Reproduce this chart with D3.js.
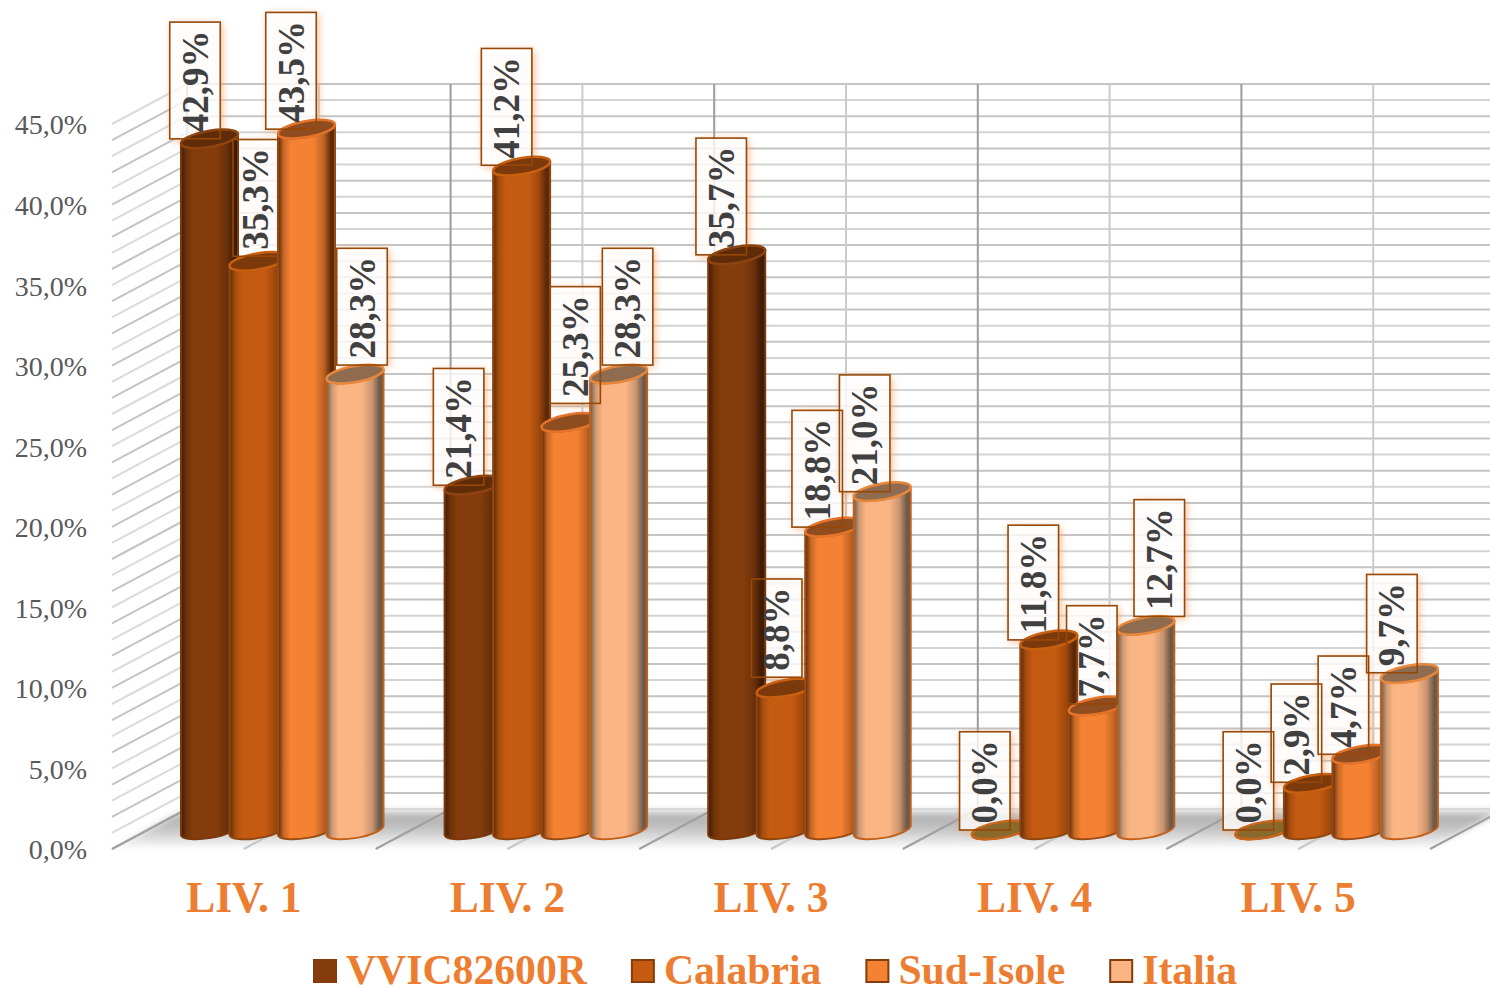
<!DOCTYPE html>
<html>
<head>
<meta charset="utf-8">
<script src="https://cdn.jsdelivr.net/npm/d3@7"></script>
<style>
html,body{margin:0;padding:0;background:#fff;overflow:hidden}
svg{display:block}
text{font-family:"Liberation Serif",serif}
</style>
</head>
<body>
<script>
const categories = ["LIV. 1","LIV. 2","LIV. 3","LIV. 4","LIV. 5"];
const seriesNames = ["VVIC82600R","Calabria","Sud-Isole","Italia"];
const vvic = [42.9,21.4,35.7,0.0,0.0];
const calabria = [35.3,41.2,8.8,11.8,2.9];
const sudIsole = [43.5,25.3,18.8,7.7,4.7];
const italia = [28.3,28.3,21.0,12.7,9.7];
const yTicks = [0,5,10,15,20,25,30,35,40,45];

// label placement nudges (drawing style, per series then category)
const labelDX = [[-14,-14,-15,-15,-15],[-2,-14.5,-8,-15,-15.5],[-15,5.5,-16,-5,-17],[7.5,9.5,-17,14,-17]];
const labelDY = [[-1,-1,-1,-1,-1],[-6,-2,-12,-1,-2],[-1,-20,-1,-3,-1],[-10,-10,-1,-10,-2]];

const W=1490,H=989;
const seriesValues=[vvic,calabria,sudIsole,italia];
const colors=["#843c0c","#c55a11","#f58233","#fbb584"];
const edge=["#3f1c05","#5c2a08","#5c2a08","#6e5a4a"];
const topFill=["#5f2b08","#7c3a0c","#8f4c1e","#8f6b50"];
const rim=["#8f4410","#c9600f","#e5742a","#e8883c"];
const outline=["#7a380c","#8f4610","#984c14","#c2601a"];

const depthX=75,depthY=-40,barDepthY=-19;
const y=d3.scaleLinear().domain([0,45]).range([849,124]);
const x=d3.scaleBand().domain(categories).range([112,1430]);
const inner=d3.scaleBand().domain(d3.range(4)).range([69,263]);
const barW=inner.step()+8.5;
const halfTilt=5, ry=8;
const labelFont=37;

const svg=d3.select("body").append("svg").attr("width",W).attr("height",H);
const defs=svg.append("defs");
const soft=defs.append("filter").attr("id","soft");
soft.append("feGaussianBlur").attr("stdDeviation",0.5);
const floorBlur=defs.append("filter").attr("id","floorBlur").attr("x","-5%").attr("y","-30%").attr("width","110%").attr("height","160%");
floorBlur.append("feGaussianBlur").attr("stdDeviation",3);

// orange glow only outside the label box, so the translucent fill stays white
const glow=defs.append("filter").attr("id","glow").attr("x","-40%").attr("y","-30%").attr("width","180%").attr("height","160%");
glow.append("feGaussianBlur").attr("in","SourceAlpha").attr("stdDeviation",4).attr("result","b");
glow.append("feOffset").attr("in","b").attr("dx",2).attr("dy",2).attr("result","o");
glow.append("feFlood").attr("flood-color","#f4a56e").attr("flood-opacity",1).attr("result","c");
glow.append("feComposite").attr("in","c").attr("in2","o").attr("operator","in").attr("result","s");
glow.append("feComposite").attr("in","s").attr("in2","SourceAlpha").attr("operator","out").attr("result","outer");
const gm=glow.append("feMerge");
gm.append("feMergeNode").attr("in","outer");
gm.append("feMergeNode").attr("in","SourceGraphic");

const fg=defs.append("linearGradient").attr("id","floorG").attr("x1",0).attr("x2",0).attr("y1",0).attr("y2",1);
[[0,"#eeeeee"],[0.2,"#b0b0b0"],[0.5,"#c4c4c4"],[0.85,"#ececec"],[1,"#ffffff"]].forEach(s=>fg.append("stop").attr("offset",s[0]).attr("stop-color",s[1]));

colors.forEach((c,i)=>{
  const g=defs.append("linearGradient").attr("id","bar"+i);
  [[0,edge[i]],[0.1,d3.interpolateRgb(edge[i],c)(0.7)],[0.22,c],[0.62,c],[0.8,d3.interpolateRgb(c,edge[i])(0.35)],[0.93,edge[i]],[1,edge[i]]]
    .forEach(s=>g.append("stop").attr("offset",s[0]).attr("stop-color",s[1]));
});

// walls
const grid=svg.append("g").attr("filter","url(#soft)");
const minor=d3.range(0,46);
grid.selectAll(".h").data(minor).join("line")
  .attr("x1",d=>x.range()[0]+depthX).attr("x2",W)
  .attr("y1",d=>y(d)+depthY).attr("y2",d=>y(d)+depthY)
  .attr("stroke",d=>d%2?"#c4c4c4":"#d4d4d4").attr("stroke-width",2);
grid.selectAll(".d").data(minor).join("line")
  .attr("x1",x.range()[0]).attr("x2",x.range()[0]+depthX)
  .attr("y1",d=>y(d)).attr("y2",d=>y(d)+depthY)
  .attr("stroke",d=>d%2?"#dadada":"#c4c4c4").attr("stroke-width",2);

const halfTicks=d3.range(0,11);
const tickX=k=>x.range()[0]+k*x.step()/2;
grid.selectAll(".v").data(halfTicks).join("line")
  .attr("x1",k=>tickX(k)+depthX).attr("x2",k=>tickX(k)+depthX)
  .attr("y1",y(45)+depthY).attr("y2",y(0)+depthY)
  .attr("stroke",k=>k%2?"#cbcbcb":"#9c9c9c").attr("stroke-width",2);

// floor
svg.append("polygon")
  .attr("points",[[x.range()[0],y(0)],[x.range()[1],y(0)],[x.range()[1]+depthX,y(0)+depthY],[x.range()[0]+depthX,y(0)+depthY]].join(" "))
  .attr("fill","url(#floorG)").attr("filter","url(#floorBlur)");
svg.append("g").attr("filter","url(#soft)").selectAll(".f").data(halfTicks).join("line")
  .attr("x1",k=>tickX(k)).attr("x2",k=>tickX(k)+depthX)
  .attr("y1",y(0)).attr("y2",y(0)+depthY)
  .attr("stroke",k=>k%2?"#c6c6c6":"#a0a0a0").attr("stroke-width",2);

// flat records from the arrays
const recs=[];
seriesValues.forEach((vals,s)=>vals.forEach((v,c)=>recs.push({s,c,v,
  left:x(categories[c])+inner(s),
  top:y(v)+barDepthY,
  base:y(0)+barDepthY,
  text:v.toFixed(1).replace(".",",")+"%"})));
recs.sort((a,b)=>a.c-b.c||a.s-b.s);

// measure label lengths
const probe=svg.append("text").attr("font-size",labelFont).attr("font-weight","bold");
recs.forEach(r=>{probe.text(r.text);r.len=probe.node().getComputedTextLength();
  r.bw=(r.s===1&&r.c===0)?45:50.5;
  r.bh=r.len+15;
  r.cx=r.left+28+labelDX[r.s][r.c];
  r.bottom=r.top+1+labelDY[r.s][r.c];
});
probe.remove();

// label fill goes under the bars
svg.append("g").selectAll("rect").data(recs).join("rect")
  .attr("x",d=>d.cx-d.bw/2).attr("y",d=>d.bottom-d.bh).attr("width",d=>d.bw).attr("height",d=>d.bh)
  .attr("fill","#fff").attr("fill-opacity",0.78).attr("filter","url(#glow)");

// cylinders
const rx=Math.hypot(barW/2,halfTilt);
const tiltDeg=-Math.atan2(halfTilt,barW/2)*180/Math.PI;
const bars=svg.append("g").selectAll("g").data(recs).join("g");
bars.append("path")
  .attr("d",d=>`M${d.left},${d.top+halfTilt}L${d.left},${d.base+halfTilt}`+
    `A${rx},${ry} ${tiltDeg} 0 0 ${d.left+barW},${d.base-halfTilt}`+
    `L${d.left+barW},${d.top-halfTilt}`+
    `A${rx},${ry} ${tiltDeg} 0 1 ${d.left},${d.top+halfTilt}Z`)
  .attr("fill",d=>`url(#bar${d.s})`)
  .attr("stroke",d=>outline[d.s]).attr("stroke-width",2);
bars.append("ellipse")
  .attr("rx",rx).attr("ry",ry)
  .attr("transform",d=>`translate(${d.left+barW/2},${d.top}) rotate(${tiltDeg})`)
  .attr("fill",d=>d.v===0?"#8a6a2c":topFill[d.s])
  .attr("stroke",d=>d.v===0?"#c9651c":rim[d.s]).attr("stroke-width",2.5);

// label border and text above the bars
const labels=svg.append("g").selectAll("g").data(recs).join("g");
labels.append("rect")
  .attr("x",d=>d.cx-d.bw/2).attr("y",d=>d.bottom-d.bh).attr("width",d=>d.bw).attr("height",d=>d.bh)
  .attr("fill","none").attr("stroke","#974706").attr("stroke-width",1.6);
labels.append("text")
  .attr("transform",d=>`translate(${d.cx+12.5},${d.bottom-d.bh/2+1}) rotate(-90)`)
  .attr("text-anchor","middle").attr("font-size",labelFont).attr("font-weight","bold")
  .attr("fill","#404040").text(d=>d.text);

// axes
const yAxis=svg.append("g").attr("transform","translate(87,1)")
  .call(d3.axisLeft(y).tickValues(yTicks).tickSize(0).tickPadding(0).tickFormat(d=>d.toFixed(1).replace(".",",")+"%"));
yAxis.select(".domain").remove();
yAxis.selectAll("text").attr("font-family","Liberation Serif").attr("font-size",28).attr("fill","#595959");

const xAxis=svg.append("g").attr("transform","translate(0,881)")
  .call(d3.axisBottom(x).tickSize(0).tickPadding(0));
xAxis.select(".domain").remove();
xAxis.selectAll("text").attr("font-family","Liberation Serif").attr("font-weight","bold")
  .attr("font-size",43.5).attr("fill","#ed7d31").attr("dy","0.71em");

// legend
const legend=svg.append("g");
let lx=313;
seriesNames.forEach((n,i)=>{
  legend.append("rect").attr("x",lx+1).attr("y",960).attr("width",22).attr("height",22)
    .attr("fill",colors[i]).attr("stroke","#843c0c").attr("stroke-width",2);
  const t=legend.append("text").attr("x",lx+33).attr("y",984).attr("font-size",41.7)
    .attr("font-weight","bold").attr("fill","#ed7d31").text(n);
  lx+=33+t.node().getComputedTextLength()+44;
});
</script>
</body>
</html>
